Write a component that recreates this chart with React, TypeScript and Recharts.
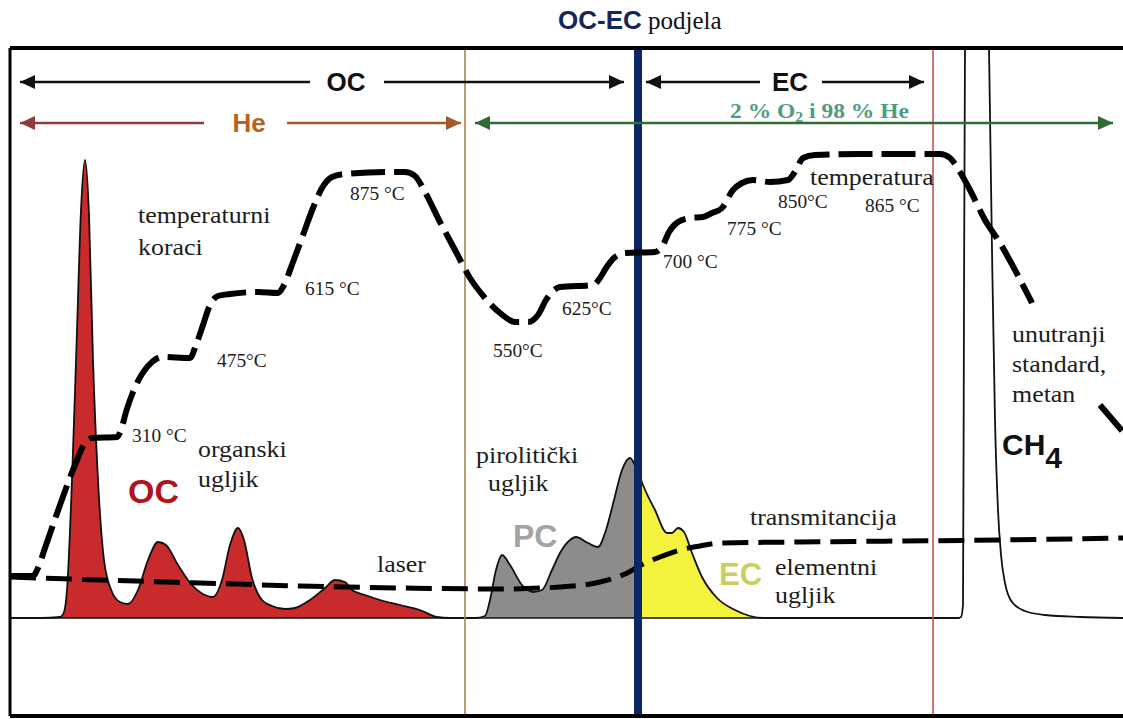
import {
  ComposedChart,
  Area,
  Line,
  XAxis,
  YAxis,
  ReferenceLine,
  ReferenceDot,
} from "recharts";

const SERIF = "'Liberation Serif', 'Times New Roman', serif";
const SANS = "'Liberation Sans', Arial, sans-serif";

// FID signal above baseline vs. analysis time (arbitrary units)
const signal = [
  { t: 0, fid: 0 }, { t: 30, fid: 0 }, { t: 50, fid: 1 }, { t: 54, fid: 6 },
  { t: 57, fid: 28 }, { t: 62, fid: 138 }, { t: 67, fid: 288 }, { t: 71, fid: 408 },
  { t: 75, fid: 458 }, { t: 79, fid: 403 }, { t: 83, fid: 258 }, { t: 88, fid: 138 },
  { t: 94, fid: 58 }, { t: 102, fid: 26 }, { t: 110, fid: 16 }, { t: 118, fid: 14 },
  { t: 128, fid: 28 }, { t: 138, fid: 58 }, { t: 148, fid: 76 }, { t: 156, fid: 73 },
  { t: 168, fid: 53 }, { t: 182, fid: 33 }, { t: 195, fid: 23 }, { t: 203, fid: 21 },
  { t: 212, fid: 38 }, { t: 220, fid: 73 }, { t: 228, fid: 90 }, { t: 234, fid: 78 },
  { t: 242, fid: 40 }, { t: 252, fid: 18 }, { t: 262, fid: 12 }, { t: 275, fid: 9 },
  { t: 285, fid: 10 }, { t: 300, fid: 18 }, { t: 315, fid: 30 }, { t: 325, fid: 38 },
  { t: 335, fid: 36 }, { t: 342, fid: 28 }, { t: 355, fid: 23 }, { t: 370, fid: 18 },
  { t: 390, fid: 13 }, { t: 410, fid: 8 }, { t: 427, fid: 1 }, { t: 440, fid: 0 },
  { t: 465, fid: 0 }, { t: 475, fid: 2 }, { t: 480, fid: 18 }, { t: 486, fid: 48 },
  { t: 492, fid: 63 }, { t: 500, fid: 53 }, { t: 512, fid: 33 }, { t: 523, fid: 26 },
  { t: 532, fid: 28 }, { t: 542, fid: 48 }, { t: 550, fid: 65 }, { t: 560, fid: 78 },
  { t: 566, fid: 81 }, { t: 578, fid: 75 }, { t: 588, fid: 71 }, { t: 596, fid: 88 },
  { t: 604, fid: 118 }, { t: 612, fid: 148 }, { t: 620, fid: 160 }, { t: 627, fid: 148 },
  { t: 630, fid: 141 }, { t: 633, fid: 133 }, { t: 645, fid: 108 }, { t: 657, fid: 85 },
  { t: 662, fid: 85 }, { t: 668, fid: 90 }, { t: 674, fid: 86 }, { t: 682, fid: 65 },
  { t: 692, fid: 41 }, { t: 707, fid: 20 }, { t: 725, fid: 8 }, { t: 740, fid: 2 },
  { t: 755, fid: 0 }, { t: 948, fid: 0 }, { t: 951, fid: 1 }, { t: 953, fid: 13 },
  { t: 954, fid: 318 }, { t: 955, fid: 570 }, { t: 956, fid: 648 }, { t: 967, fid: 768 },
  { t: 978, fid: 648 }, { t: 979, fid: 570 }, { t: 982, fid: 368 }, { t: 985, fid: 198 },
  { t: 988, fid: 108 }, { t: 991, fid: 63 }, { t: 995, fid: 35 }, { t: 1002, fid: 16 },
  { t: 1015, fid: 7 }, { t: 1035, fid: 3 }, { t: 1070, fid: 1 }, { t: 1113, fid: 0 },
];

// temperature programme (schematic height)
const temperature = [
  { t: 0, temp: 42 }, { t: 23, temp: 42 }, { t: 28, temp: 50 }, { t: 35, temp: 70 },
  { t: 50, temp: 113 }, { t: 65, temp: 153 }, { t: 75, temp: 175 }, { t: 82, temp: 180 },
  { t: 107, temp: 181 }, { t: 111, temp: 188 }, { t: 116, temp: 206 }, { t: 123, temp: 226 },
  { t: 132, temp: 244 }, { t: 142, temp: 256 }, { t: 152, temp: 261 }, { t: 180, temp: 260 },
  { t: 186, temp: 273 }, { t: 193, temp: 293 }, { t: 200, temp: 313 }, { t: 208, temp: 322 },
  { t: 220, temp: 324 }, { t: 248, temp: 326 }, { t: 268, temp: 325 }, { t: 274, temp: 333 },
  { t: 283, temp: 356 }, { t: 293, temp: 383 }, { t: 303, temp: 410 }, { t: 312, temp: 430 },
  { t: 322, temp: 441 }, { t: 335, temp: 444 }, { t: 380, temp: 446 }, { t: 395, temp: 446 },
  { t: 405, temp: 442 }, { t: 415, temp: 426 }, { t: 430, temp: 396 }, { t: 445, temp: 368 },
  { t: 460, temp: 340 }, { t: 475, temp: 320 }, { t: 490, temp: 305 }, { t: 505, temp: 296 },
  { t: 518, temp: 296 }, { t: 528, temp: 303 }, { t: 536, temp: 318 }, { t: 542, temp: 326 },
  { t: 550, temp: 331 }, { t: 583, temp: 333 }, { t: 590, temp: 340 }, { t: 596, temp: 350 },
  { t: 604, temp: 360 }, { t: 615, temp: 365 }, { t: 645, temp: 366 }, { t: 653, temp: 373 },
  { t: 659, temp: 386 }, { t: 668, temp: 396 }, { t: 680, temp: 400 }, { t: 693, temp: 401 },
  { t: 702, temp: 405 }, { t: 712, temp: 410 }, { t: 723, temp: 428 }, { t: 732, temp: 435 },
  { t: 743, temp: 438 }, { t: 760, temp: 436 }, { t: 778, temp: 438 }, { t: 786, temp: 448 },
  { t: 793, temp: 460 }, { t: 805, temp: 463 }, { t: 850, temp: 464 }, { t: 930, temp: 464 },
  { t: 940, temp: 460 }, { t: 950, temp: 446 }, { t: 960, temp: 428 }, { t: 975, temp: 398 },
  { t: 990, temp: 375 }, { t: 1005, temp: 348 }, { t: 1022, temp: 315 },
  { t: 1056, temp: null }, { t: 1090, temp: 213 }, { t: 1113, temp: 186 },
];

// laser transmittance
const laser = [
  { t: 0, trans: 41 }, { t: 90, trans: 38 }, { t: 190, trans: 35 }, { t: 290, trans: 32 },
  { t: 390, trans: 30 }, { t: 490, trans: 29 }, { t: 550, trans: 31 }, { t: 590, trans: 36 },
  { t: 615, trans: 44 }, { t: 633, trans: 54 }, { t: 650, trans: 61 }, { t: 670, trans: 68 },
  { t: 690, trans: 72 }, { t: 710, trans: 75 }, { t: 790, trans: 76 }, { t: 890, trans: 77 },
  { t: 990, trans: 78 }, { t: 1113, trans: 80 },
];

const inRange = (a: number, b: number) => signal.filter((p) => p.t >= a && p.t <= b);
const ocArea = inRange(50, 440);
const pcArea = inRange(470, 630);
const ecArea = inRange(630, 760);

const kinds: Record<string, any> = {
  serif: { font: SERIF, size: 24, color: "#1c1c1c", sx: 1.08 },
  temp: { font: SERIF, size: 19, color: "#1c1c1c", sx: 1.02 },
  oc: { font: SANS, size: 34, weight: 700, color: "#b0141c" },
  pc: { font: SANS, size: 32, weight: 700, color: "#a3a3a3" },
  ec: { font: SANS, size: 31, weight: 700, color: "#c9cf5e" },
  arrow: { font: SANS, size: 26, weight: 700, color: "#111" },
  he: { font: SANS, size: 26, weight: 700, color: "#b8621b" },
  gas: { font: SERIF, size: 21, weight: 700, color: "#4d9c84", sx: 1.12 },
  ch4: { font: SANS, size: 30, weight: 700, color: "#111" },
  titleSans: { font: SANS, size: 26, weight: 700, color: "#15265a" },
  titleSerif: { font: SERIF, size: 25, color: "#111" },
};

type Part = { text: string; kind: string; dy?: number; size?: number };
type Note = { t: number; v: number; parts: Part[]; anchor?: string };

const p = (text: string, kind: string): Part[] => [{ text, kind }];

const notes: Note[] = [
  { t: 548, v: 589, parts: [{ text: "OC-EC", kind: "titleSans" }, { text: " podjela", kind: "titleSerif" }] },
  { t: 336, v: 527, parts: p("OC", "arrow"), anchor: "middle" },
  { t: 780, v: 527, parts: p("EC", "arrow"), anchor: "middle" },
  { t: 239, v: 486, parts: p("He", "he"), anchor: "middle" },
  {
    t: 720, v: 500,
    parts: [
      { text: "2 % O", kind: "gas" },
      { text: "2", kind: "gas", dy: 4, size: 14 },
      { text: " i 98 % He", kind: "gas", dy: -4 },
    ],
  },
  { t: 128, v: 395, parts: p("temperaturni", "serif") },
  { t: 128, v: 363, parts: p("koraci", "serif") },
  { t: 340, v: 418, parts: p("875 °C", "temp") },
  { t: 295, v: 323, parts: p("615 °C", "temp") },
  { t: 207, v: 251, parts: p("475°C", "temp") },
  { t: 122, v: 176, parts: p("310 °C", "temp") },
  { t: 483, v: 261, parts: p("550°C", "temp") },
  { t: 552, v: 303, parts: p("625°C", "temp") },
  { t: 653, v: 350, parts: p("700 °C", "temp") },
  { t: 717, v: 383, parts: p("775 °C", "temp") },
  { t: 768, v: 410, parts: p("850°C", "temp") },
  { t: 855, v: 406, parts: p("865 °C", "temp") },
  { t: 800, v: 433, parts: p("temperatura", "serif") },
  { t: 1002, v: 276, parts: p("unutranji", "serif") },
  { t: 1002, v: 246, parts: p("standard,", "serif") },
  { t: 1002, v: 216, parts: p("metan", "serif") },
  { t: 992, v: 163, parts: [{ text: "CH", kind: "ch4" }, { text: "4", kind: "ch4", dy: 13 }] },
  { t: 188, v: 161, parts: p("organski", "serif") },
  { t: 188, v: 131, parts: p("ugljik", "serif") },
  { t: 118, v: 115, parts: p("OC", "oc") },
  { t: 367, v: 46, parts: p("laser", "serif") },
  { t: 466, v: 155, parts: p("pirolitički", "serif") },
  { t: 478, v: 127, parts: p("ugljik", "serif") },
  { t: 503, v: 71, parts: p("PC", "pc") },
  { t: 740, v: 93, parts: p("transmitancija", "serif") },
  { t: 709, v: 33, parts: p("EC", "ec") },
  { t: 765, v: 43, parts: p("elementni", "serif") },
  { t: 765, v: 15, parts: p("ugljik", "serif") },
];

const arrows = [
  { v: 536, from: 10, to: 300, color: "#111", head: "l" },
  { v: 536, from: 374, to: 614, color: "#111", head: "r" },
  { v: 536, from: 636, to: 750, color: "#111", head: "l" },
  { v: 536, from: 812, to: 914, color: "#111", head: "r" },
  { v: 495, from: 10, to: 194, color: "#8e3b3b", head: "l" },
  { v: 495, from: 277, to: 451, color: "#a25a2a", head: "r" },
  { v: 495, from: 465, to: 1103, color: "#2f6b32", head: "lr" },
];

function NoteText({ cx, cy, note }: any) {
  const first = kinds[note.parts[0].kind];
  return (
    <text
      transform={`translate(${cx},${cy}) scale(${first.sx ?? 1},1)`}
      x={0}
      y={0}
      fontFamily={first.font}
      style={{ fontFamily: first.font }}
      textAnchor={note.anchor ?? "start"}
    >
      {note.parts.map((part: Part, i: number) => {
        const k = kinds[part.kind];
        return (
          <tspan
            key={i}
            dy={part.dy ?? 0}
            style={{ fontFamily: k.font }}
            fontFamily={k.font}
            fontSize={part.size ?? k.size}
            fontWeight={k.weight ?? 400}
            fill={k.color}
          >
            {part.text}
          </tspan>
        );
      })}
    </text>
  );
}

function Head({ cx, cy, dir, color }: any) {
  const d = dir === "l" ? 1 : -1;
  return (
    <polygon
      points={`${cx},${cy} ${cx + d * 15},${cy - 7} ${cx + d * 15},${cy + 7}`}
      fill={color}
    />
  );
}

export default function App() {
  return (
    <div style={{ width: 1123, height: 719, background: "#fff" }}>
      <style>{"body{margin:0}"}</style>
      <ComposedChart
        width={1123}
        height={719}
        margin={{ top: 48, right: 0, bottom: 3, left: 10 }}
      >
        <XAxis dataKey="t" type="number" domain={[0, 1113]} allowDataOverflow hide />
        <YAxis type="number" domain={[-98, 570]} allowDataOverflow hide />

        <Area data={ocArea} dataKey="fid" type="monotone" baseValue={0} fill="#c92a2c" fillOpacity={1} stroke="none" isAnimationActive={false} />
        <Area data={pcArea} dataKey="fid" type="monotone" baseValue={0} fill="#8c8c8c" fillOpacity={1} stroke="none" isAnimationActive={false} />
        <Area data={ecArea} dataKey="fid" type="monotone" baseValue={0} fill="#f3f23c" fillOpacity={1} stroke="none" isAnimationActive={false} />

        <ReferenceLine segment={[{ x: 0, y: 0 }, { x: 950, y: 0 }]} stroke="#111" strokeWidth={1.5} />
        <Line data={signal} dataKey="fid" type="monotone" stroke="#111" strokeWidth={1.8} dot={false} activeDot={false} isAnimationActive={false} />

        <ReferenceLine x={455} stroke="#a8834c" strokeWidth={1.6} />
        <ReferenceLine x={923} stroke="#c8504a" strokeWidth={1.6} />

        <Line data={laser} dataKey="trans" type="monotone" stroke="#000" strokeWidth={5} strokeDasharray="26 10" dot={false} activeDot={false} isAnimationActive={false} />

        <ReferenceLine x={628} stroke="#0c2766" strokeWidth={8} />

        <Line data={temperature} dataKey="temp" type="monotone" stroke="#000" strokeWidth={6} strokeDasharray="34 9" dot={false} activeDot={false} isAnimationActive={false} />

        <ReferenceLine y={570} stroke="#000" strokeWidth={4} />
        <ReferenceLine x={0} stroke="#000" strokeWidth={3} />
        <ReferenceLine y={-98} stroke="#000" strokeWidth={4} />

        {arrows.map((a, i) => (
          <ReferenceLine
            key={`a${i}`}
            segment={[{ x: a.from, y: a.v }, { x: a.to, y: a.v }]}
            stroke={a.color}
            strokeWidth={2.5}
            ifOverflow="visible"
          />
        ))}
        {arrows.flatMap((a, i) => {
          const heads = [];
          if (a.head.includes("l"))
            heads.push(
              <ReferenceDot key={`hl${i}`} x={a.from} y={a.v} r={0} ifOverflow="visible"
                shape={(pr: any) => <Head cx={pr.cx} cy={pr.cy} dir="l" color={a.color} />} />
            );
          if (a.head.includes("r"))
            heads.push(
              <ReferenceDot key={`hr${i}`} x={a.to} y={a.v} r={0} ifOverflow="visible"
                shape={(pr: any) => <Head cx={pr.cx} cy={pr.cy} dir="r" color={a.color} />} />
            );
          return heads;
        })}

        {notes.map((n, i) => (
          <ReferenceDot
            key={`n${i}`}
            x={n.t}
            y={n.v}
            r={0}
            ifOverflow="visible"
            shape={(pr: any) => <NoteText cx={pr.cx} cy={pr.cy} note={n} />}
          />
        ))}
      </ComposedChart>
    </div>
  );
}
